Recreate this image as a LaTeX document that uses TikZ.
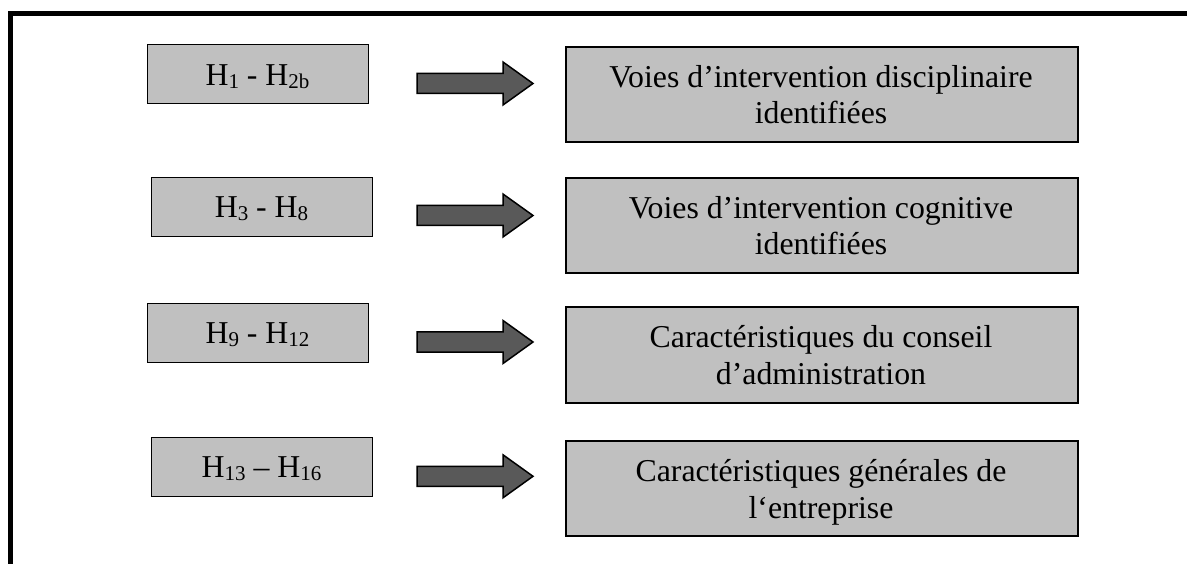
\documentclass[tikz,border=0pt]{standalone}
\usepackage{fontspec}
\setmainfont{Liberation Serif}
\definecolor{boxgray}{RGB}{192,192,192}
\definecolor{arrowgray}{RGB}{89,89,89}
% lowered, smaller index for the hypothesis labels
\newcommand\hidx[1]{\raisebox{-3pt}{\fontsize{21pt}{21pt}\selectfont #1}}
\begin{document}
\begin{tikzpicture}[x=1pt,y=-1pt,
  txt/.style={font=\fontsize{31.8pt}{36.5pt}\selectfont,inner sep=0pt,align=center,anchor=base},
  hypbox/.style={draw=black,line width=1.3pt,fill=boxgray,inner sep=0pt,anchor=north west,
    minimum width=221pt,minimum height=59pt},
  resbox/.style={draw=black,line width=2pt,fill=boxgray,inner sep=0pt,anchor=north west,
    minimum width=512pt,minimum height=95pt},
  blockarrow/.pic={\draw[fill=arrowgray,draw=black,line width=1.5pt,line join=miter]
    (0,-10) -- (86,-10) -- (86,-21.5) -- (116,0) -- (86,21.5) -- (86,10) -- (0,10) -- cycle;}]
\useasboundingbox (0,0) rectangle (1187,564);

% outer frame (top and left sides only)
\draw[line width=5pt,line join=miter] (10.5,564) -- (10.5,13.5) -- (1187,13.5);

% hypothesis boxes
\node[hypbox] (h1) at (147,44) {};
\node[hypbox] (h2) at (151,177) {};
\node[hypbox] (h3) at (147,303) {};
\node[hypbox] (h4) at (151,437) {};
\node[txt] (h1t) at (257.5,85.5) {H\hidx{1} - H\hidx{2b}};
\node[txt] (h2t) at (261.5,218) {H\hidx{3} - H\hidx{8}};
\node[txt] (h3t) at (257.5,343) {H\hidx{9} - H\hidx{12}};
\node[txt] (h4t) at (261.5,477.5) {H\hidx{13} – H\hidx{16}};

% result boxes (text anchored on the baseline of its last line)
\node[resbox] (r1) at (565,46) {};
\node[resbox] (r2) at (565,177) {};
\node[resbox] (r3) at (565,306.5) {};
\node[resbox] (r4) at (565,440) {};
\node[txt] (r1t) at (821,124) {Voies d’intervention disciplinaire\\identifiées};
\node[txt] (r2t) at (821,255) {Voies d’intervention cognitive\\identifiées};
\node[txt] (r3t) at (821,384.5) {Caractéristiques du conseil\\d’administration};
\node[txt] (r4t) at (821,518) {Caractéristiques générales de\\l‘entreprise};

% block arrows between the two columns
\pic at (417,83.5) {blockarrow};
\pic at (417,215.5) {blockarrow};
\pic at (417,342) {blockarrow};
\pic at (417,476.3) {blockarrow};
\end{tikzpicture}
\end{document}
